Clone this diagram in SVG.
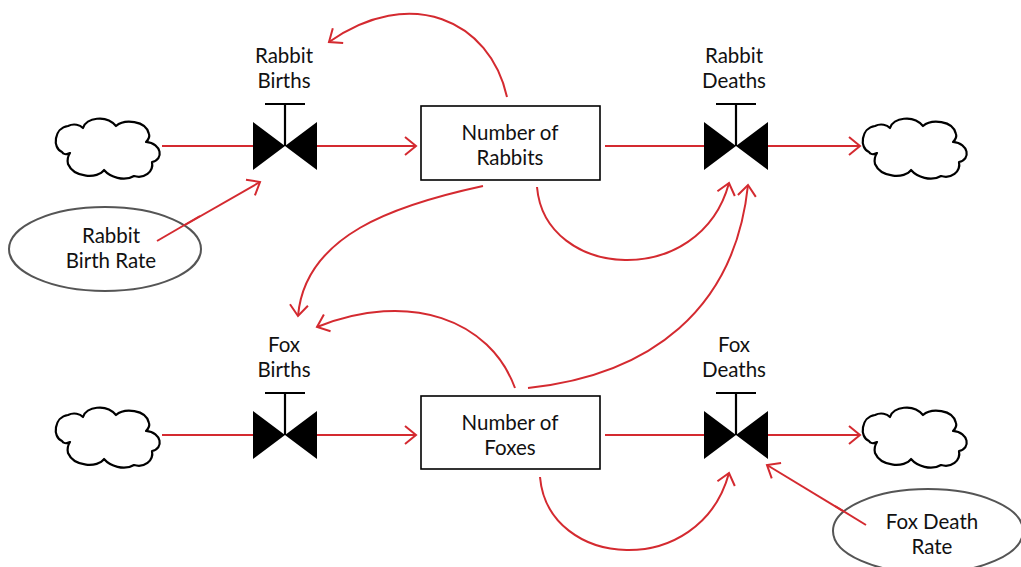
<svg xmlns="http://www.w3.org/2000/svg" width="1021" height="567" viewBox="0 0 1021 567">
<style>
.lbl{font-family:Lato,"Open Sans","DejaVu Sans",sans-serif;font-size:20.5px;fill:#111;text-anchor:middle}
.cloud{fill:#fff;stroke:#000;stroke-width:2.2;stroke-linejoin:round}
.valve{fill:#000}
.stem{stroke:#000;stroke-width:2.2;fill:none}
.box{fill:#fff;stroke:#000;stroke-width:1.6}
.aux{fill:#fff;stroke:#555;stroke-width:2}
.con{fill:none;stroke:#d42a30;stroke-width:2;marker-end:url(#arr)}
.flow{fill:none;stroke:#d42a30;stroke-width:2}
</style>
<defs>
<marker id="arr" markerUnits="userSpaceOnUse" viewBox="-13 -11 15 22" markerWidth="15" markerHeight="22" refX="0" refY="0" orient="auto">
<path d="M-11,-9 L0,0 L-11,9" fill="none" stroke="#d42a30" stroke-width="2"/>
</marker>
<path id="cloudShape" d="M8,36 C-2,32 0,12 14,10 C20,7 26,9 29,12 C32,2 52,-2 62,10 C70,3 92,4 95,18 C96,21 94,24 92,26 C108,27 110,44 98,46 C100,56 90,63 80,60 C70,66 56,61 50,54 C44,63 20,62 14,48 C13,44 14,40 16,37 C12,39 9,38 8,36 Z"/>
<g id="valveShape">
<polygon points="-32,-24 -32,24 0,0 32,-24 32,24 0,0" class="valve"/>
<path d="M0,0 V-42 M-20,-42 H20" class="stem"/>
</g>
</defs>

<g id="cloud-rabbit-source"><use href="#cloudShape" class="cloud" transform="translate(54,116)"/></g>
<g id="cloud-rabbit-sink"><use href="#cloudShape" class="cloud" transform="translate(861,116)"/></g>
<g id="cloud-fox-source"><use href="#cloudShape" class="cloud" transform="translate(54,405)"/></g>
<g id="cloud-fox-sink"><use href="#cloudShape" class="cloud" transform="translate(861,405)"/></g>

<g id="connectors">
<line x1="162" y1="146" x2="253" y2="146" class="flow"/>
<line x1="317" y1="146" x2="416" y2="146" class="con"/>
<line x1="605" y1="146" x2="704" y2="146" class="flow"/>
<line x1="768" y1="146" x2="860" y2="146" class="con"/>
<line x1="162" y1="435" x2="253" y2="435" class="flow"/>
<line x1="317" y1="435" x2="416" y2="435" class="con"/>
<line x1="605" y1="435" x2="704" y2="435" class="flow"/>
<line x1="768" y1="435" x2="860" y2="435" class="con"/>
<path d="M507,97 C490,20 410,-15 329,42" class="con"/>
<path d="M483,186 C395,205 305,235 298,316" class="con"/>
<path d="M515,388 C490,320 410,290 317,327" class="con"/>
<path d="M537,187 C545,280 700,290 729,183" class="con"/>
<path d="M528,388 C650,375 735,310 748,185" class="con"/>
<path d="M540,477 C548,570 700,580 729,473" class="con"/>
<path d="M157,241 L260,182" class="con"/>
<path d="M866,525 L767,465" class="con"/>
</g>

<g id="valve-rabbit-births">
<use href="#valveShape" transform="translate(285,146)"/>
<text class="lbl" x="284" y="63">Rabbit</text>
<text class="lbl" x="284" y="88">Births</text>
</g>
<g id="valve-rabbit-deaths">
<use href="#valveShape" transform="translate(736,146)"/>
<text class="lbl" x="734" y="63">Rabbit</text>
<text class="lbl" x="734" y="88">Deaths</text>
</g>
<g id="valve-fox-births">
<use href="#valveShape" transform="translate(285,435)"/>
<text class="lbl" x="284" y="352">Fox</text>
<text class="lbl" x="284" y="377">Births</text>
</g>
<g id="valve-fox-deaths">
<use href="#valveShape" transform="translate(736,435)"/>
<text class="lbl" x="734" y="352">Fox</text>
<text class="lbl" x="734" y="377">Deaths</text>
</g>

<g id="stock-rabbits">
<rect x="421" y="106" width="179" height="74" class="box"/>
<text class="lbl" x="510" y="140">Number of</text>
<text class="lbl" x="510" y="165">Rabbits</text>
</g>
<g id="stock-foxes">
<rect x="421" y="396" width="179" height="73" class="box"/>
<text class="lbl" x="510" y="430">Number of</text>
<text class="lbl" x="510" y="455">Foxes</text>
</g>

<g id="aux-rabbit-birth-rate">
<ellipse cx="105" cy="249" rx="96" ry="42" class="aux"/>
<text class="lbl" x="111" y="243">Rabbit</text>
<text class="lbl" x="111" y="268">Birth Rate</text>
</g>
<g id="aux-fox-death-rate">
<ellipse cx="928" cy="531" rx="95" ry="42" class="aux"/>
<text class="lbl" x="932" y="529">Fox Death</text>
<text class="lbl" x="932" y="554">Rate</text>
</g>
<g id="aux-links">
<path d="M157,241 L200,216" class="flow"/>
<path d="M866,525 L835,506" class="flow"/>
</g>
</svg>
